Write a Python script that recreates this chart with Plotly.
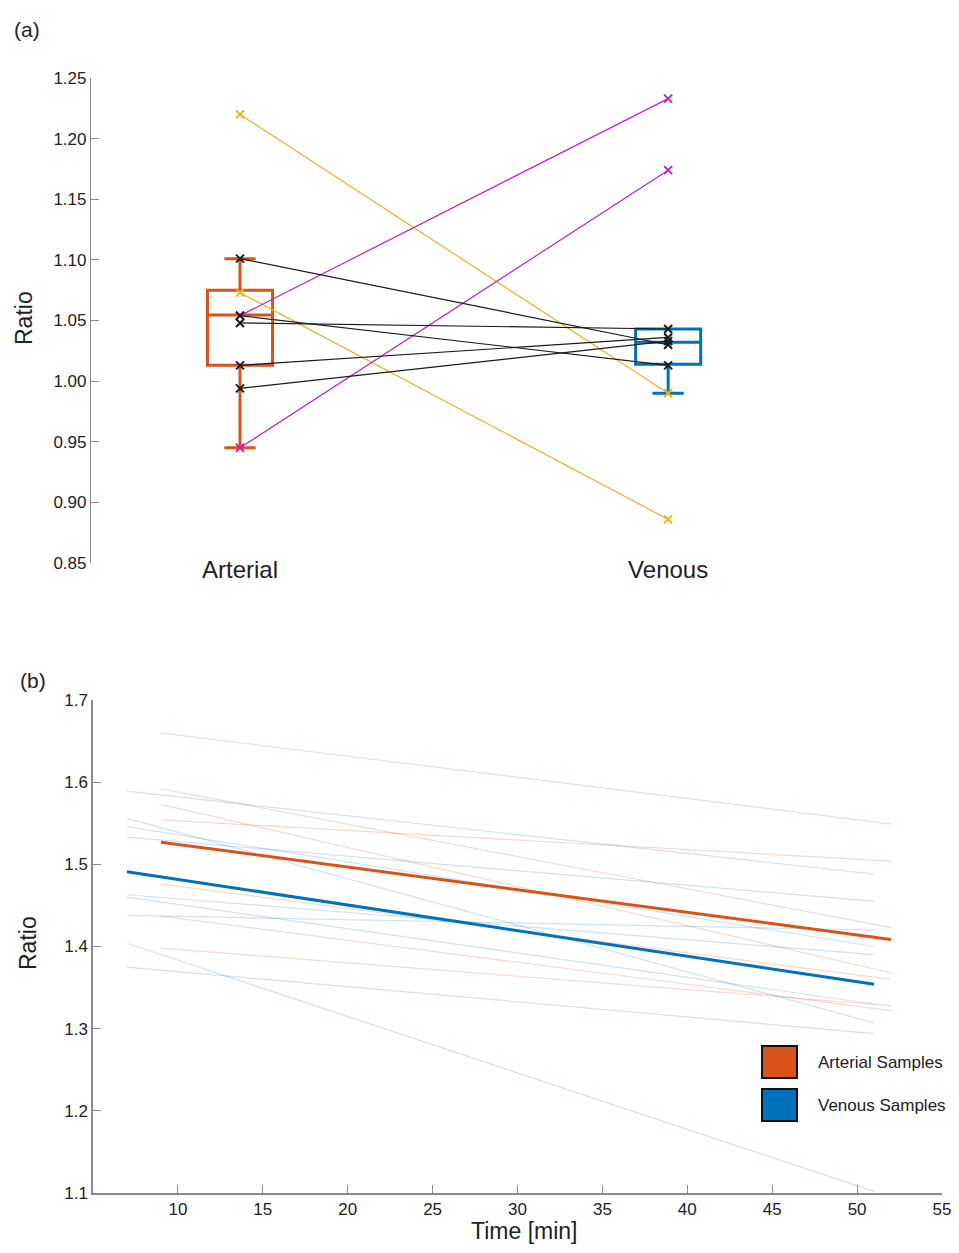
import plotly.graph_objects as go

# page body has an 8px margin; the figure fills the rest of the 959x1253 window
OFF = 8
W, H = 959 - 2 * OFF, 1253 - 2 * OFF

# ---------------- Panel (a) data ----------------
categories = ["Arterial", "Venous"]
cat_pos = [1, 2]

pair_arterial = [1.220, 1.073, 1.054, 0.945, 1.101, 1.048, 1.054, 1.013, 0.994]
pair_venous = [0.990, 0.886, 1.233, 1.174, 1.030, 1.043, 1.013, 1.036, 1.033]
pair_colors = ["#EDB120", "#EDB120", "#C41FC4", "#C41FC4",
               "#1a1a1a", "#1a1a1a", "#1a1a1a", "#1a1a1a", "#1a1a1a"]

box_colors = ["#D95319", "#0072BD"]
box_q1 = [1.013, 1.014]
box_median = [1.0545, 1.032]
box_q3 = [1.075, 1.043]
box_lower = [0.945, 0.990]
box_upper = [1.101, 1.043]

# ---------------- Panel (b) data ----------------
art_time = [9, 52]
ven_time = [7, 51]
art_start = [1.660, 1.554, 1.592, 1.573, 1.476, 1.437, 1.398]
art_end = [1.549, 1.504, 1.423, 1.368, 1.360, 1.322, 1.328]
ven_start = [1.589, 1.533, 1.556, 1.546, 1.463, 1.460, 1.438, 1.404, 1.375]
ven_end = [1.488, 1.455, 1.307, 1.400, 1.390, 1.330, 1.420, 1.102, 1.294]
art_mean = [1.527, 1.4085]
ven_mean = [1.491, 1.354]
time_ticks = [10, 15, 20, 25, 30, 35, 40, 45, 50, 55]

FONT = "Liberation Sans, Arial, sans-serif"
AX = "#8a8a8a"
TXT = "#222222"

fig = go.Figure()

# pair lines (panel a)
for a, v, c in zip(pair_arterial, pair_venous, pair_colors):
    fig.add_trace(go.Scatter(
        x=cat_pos, y=[a, v], mode="lines",
        line=dict(color=c, width=1.2), showlegend=False, hoverinfo="skip",
        xaxis="x", yaxis="y"))

# boxes
for i in range(2):
    fig.add_trace(go.Box(
        x=[cat_pos[i]], q1=[box_q1[i]], median=[box_median[i]], q3=[box_q3[i]],
        lowerfence=[box_lower[i]], upperfence=[box_upper[i]],
        width=0.152, whiskerwidth=0.48, boxpoints=False,
        line=dict(color=box_colors[i], width=3),
        fillcolor="rgba(255,255,255,0)", showlegend=False,
        xaxis="x", yaxis="y"))

# markers on top
for a, v, c in zip(pair_arterial, pair_venous, pair_colors):
    fig.add_trace(go.Scatter(
        x=cat_pos, y=[a, v], mode="markers",
        marker=dict(symbol="x-thin", size=8, color=c,
                    line=dict(color=c, width=2)),
        showlegend=False, hoverinfo="skip", xaxis="x", yaxis="y"))

# panel b light lines
for s, e in zip(art_start, art_end):
    fig.add_trace(go.Scatter(
        x=art_time, y=[s, e], mode="lines",
        line=dict(color="rgba(217,83,25,0.22)", width=1.2),
        showlegend=False, hoverinfo="skip", xaxis="x2", yaxis="y2"))
for s, e in zip(ven_start, ven_end):
    fig.add_trace(go.Scatter(
        x=ven_time, y=[s, e], mode="lines",
        line=dict(color="rgba(0,114,189,0.2)", width=1.2),
        showlegend=False, hoverinfo="skip", xaxis="x2", yaxis="y2"))

fig.add_trace(go.Scatter(
    x=art_time, y=art_mean, mode="lines",
    line=dict(color="#D95319", width=3), showlegend=False,
    xaxis="x2", yaxis="y2"))
fig.add_trace(go.Scatter(
    x=ven_time, y=ven_mean, mode="lines",
    line=dict(color="#0072BD", width=3), showlegend=False,
    xaxis="x2", yaxis="y2"))


def px(x):
    return (x - OFF) / W


def py(y):
    return 1 - (y - OFF) / H


tickfont = dict(family=FONT, size=17, color=TXT)

fig.update_layout(
    template="none",
    width=W, height=H,
    margin=dict(l=0, r=0, t=0, b=0, pad=0, autoexpand=False),
    paper_bgcolor="white", plot_bgcolor="white",
    font=dict(family=FONT, color=TXT),
    showlegend=False,
    xaxis=dict(domain=[px(91), px(818)], range=[0.652, 2.35],
               tickvals=cat_pos, ticktext=categories, showline=False,
               ticks="", showgrid=False, zeroline=False, automargin=False,
               tickfont=dict(family=FONT, size=24, color=TXT),
               ticklabelstandoff=-10, anchor="y"),
    yaxis=dict(domain=[py(563), py(78)], range=[0.85, 1.25],
               tickvals=[0.85, 0.90, 0.95, 1.00, 1.05, 1.10, 1.15, 1.20, 1.25],
               tickformat=".2f", ticks="inside", ticklen=8, tickcolor=AX,
               showline=True, linecolor=AX, linewidth=1.2, automargin=False,
               showgrid=False, zeroline=False, tickfont=tickfont, anchor="x"),
    xaxis2=dict(domain=[px(93), px(942)], range=[5, 55],
                tickvals=time_ticks, ticklabeloverflow="allow",
                ticks="inside", ticklen=8, tickcolor=AX, automargin=False,
                showline=True, linecolor=AX, linewidth=1.5,
                showgrid=False, zeroline=False, tickfont=tickfont, anchor="y2"),
    yaxis2=dict(domain=[py(1193), py(700)], range=[1.1, 1.7],
                tickvals=[1.1, 1.2, 1.3, 1.4, 1.5, 1.6, 1.7],
                tickformat=".1f", ticks="inside", ticklen=8, tickcolor=AX,
                showline=True, linecolor=AX, linewidth=1.5, automargin=False,
                showgrid=False, zeroline=False, tickfont=tickfont, anchor="x2"),
)

annots = [
    dict(text="(a)", x=px(27), y=py(29), size=21, angle=0),
    dict(text="(b)", x=px(33), y=py(680), size=21, angle=0),
    dict(text="Ratio", x=px(24), y=py(318), size=23, angle=-90),
    dict(text="Ratio", x=px(28), y=py(943), size=23, angle=-90),
    dict(text="Time [min]", x=px(524), y=py(1231), size=23, angle=0),
]
for a in annots:
    fig.add_annotation(text=a["text"], x=a["x"], y=a["y"], xref="paper", yref="paper",
                       xanchor="center", yanchor="middle", showarrow=False,
                       textangle=a["angle"],
                       font=dict(family=FONT, size=a["size"], color=TXT))

# legend (drawn)
legend_items = [("Arterial Samples", "#D95319", 1046, 1078),
                ("Venous Samples", "#0072BD", 1089, 1121)]
for label, col, y0, y1 in legend_items:
    fig.add_shape(type="rect", xref="paper", yref="paper",
                  x0=px(762), x1=px(797), y0=py(y1), y1=py(y0),
                  fillcolor=col, line=dict(color="#111111", width=2))
    fig.add_annotation(text=label, x=px(816), y=py((y0 + y1) / 2),
                       xref="paper", yref="paper", xanchor="left", yanchor="middle",
                       showarrow=False, font=dict(family=FONT, size=17, color=TXT))

fig.write_html("out.html")
